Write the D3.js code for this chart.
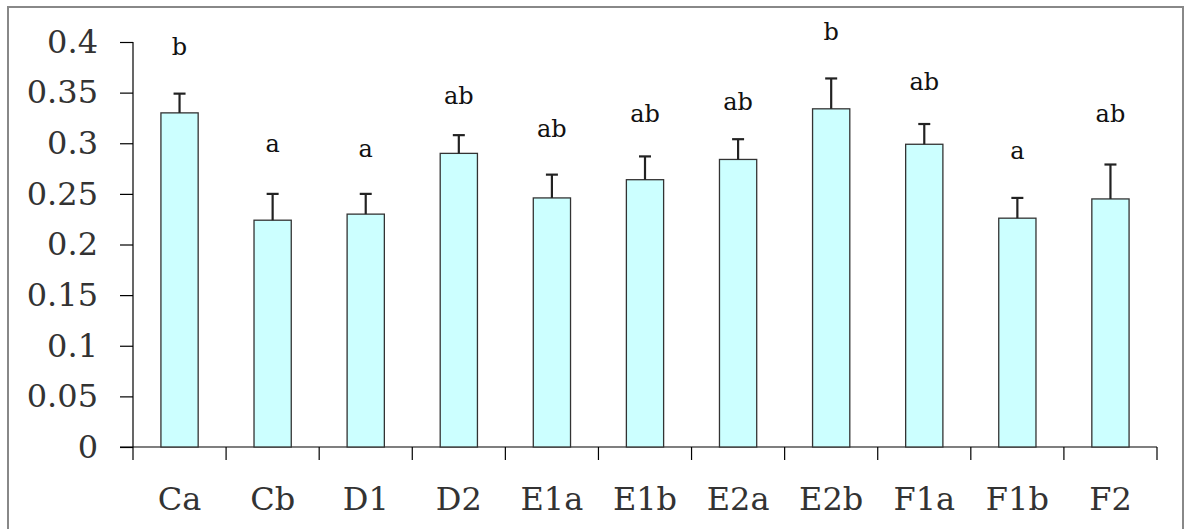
<!DOCTYPE html>
<html>
<head>
<meta charset="utf-8">
<script src="https://cdn.jsdelivr.net/npm/d3@7"></script>
<style>
  html, body { margin: 0; padding: 0; background: #fff; }
  svg { display: block; }
</style>
</head>
<body>
<svg id="chart" width="1187" height="529"></svg>
<script>
// ---- data ----
const categories = ["Ca", "Cb", "D1", "D2", "E1a", "E1b", "E2a", "E2b", "F1a", "F1b", "F2"];
const means      = [0.330, 0.224, 0.230, 0.290, 0.246, 0.264, 0.284, 0.334, 0.299, 0.226, 0.245];
const errors     = [0.019, 0.026, 0.020, 0.018, 0.023, 0.023, 0.020, 0.030, 0.020, 0.020, 0.034];
const letters    = ["b", "a", "a", "ab", "ab", "ab", "ab", "b", "ab", "a", "ab"];
const letterY    = [0.387, 0.291, 0.286, 0.339, 0.306, 0.321, 0.333, 0.402, 0.353, 0.284, 0.321];
const yTicks     = [0, 0.05, 0.1, 0.15, 0.2, 0.25, 0.3, 0.35, 0.4];

// ---- layout ----
const svg = d3.select("#chart");
const x0 = 133, x1 = 1157, yTop = 42, yBot = 447;
const font = "'DejaVu Serif', 'Liberation Serif', serif";

svg.append("rect")
  .attr("x", 8).attr("y", 7).attr("width", 1175).attr("height", 540)
  .attr("fill", "none").attr("stroke", "#888").attr("stroke-width", 2);

const x = d3.scaleBand().domain(categories).range([x0, x1]).paddingInner(0.6).paddingOuter(0.3);
const xb = d3.scaleBand().domain(categories).range([x0, x1]);
const y = d3.scaleLinear().domain([0, 0.4]).range([yBot, yTop]);

// y axis
const yAxis = d3.axisLeft(y).tickValues(yTicks).tickSize(13).tickPadding(22)
  .tickFormat(d => d3.format("")(+d.toFixed(2)));
const gy = svg.append("g").attr("transform", `translate(${x0},0)`).call(yAxis);
gy.select(".domain").attr("d", `M0,${yTop}H0V${yBot}`).attr("stroke", "#000").attr("stroke-width", 1.2);
gy.selectAll(".tick line").attr("stroke", "#000").attr("stroke-width", 1.2);
gy.selectAll(".tick text").attr("font-family", font).attr("font-size", 32).attr("fill", "#333");

// x axis line and ticks
svg.append("line").attr("x1", 120).attr("x2", x1).attr("y1", yBot).attr("y2", yBot)
  .attr("stroke", "#000").attr("stroke-width", 1.2);
const bounds = categories.map(c => xb(c)).concat([x1]);
svg.selectAll(".xt").data(bounds).enter().append("line")
  .attr("x1", d => d).attr("x2", d => d).attr("y1", yBot).attr("y2", yBot + 13)
  .attr("stroke", "#000").attr("stroke-width", 1.2);
svg.selectAll(".xl").data(categories).enter().append("text")
  .attr("x", d => xb(d) + xb.bandwidth() / 2).attr("y", 510)
  .attr("text-anchor", "middle").attr("font-family", font).attr("font-size", 32).attr("fill", "#333")
  .text(d => d);

// bars
svg.selectAll(".bar").data(categories).enter().append("rect")
  .attr("x", d => x(d)).attr("width", x.bandwidth())
  .attr("y", (d, i) => y(means[i])).attr("height", (d, i) => yBot - y(means[i]))
  .attr("fill", "#CCFFFF").attr("stroke", "#333").attr("stroke-width", 1.3);

// error bars
const cx = d => x(d) + x.bandwidth() / 2;
svg.selectAll(".eb").data(categories).enter().append("line")
  .attr("x1", cx).attr("x2", cx)
  .attr("y1", (d, i) => y(means[i])).attr("y2", (d, i) => y(means[i] + errors[i]))
  .attr("stroke", "#222").attr("stroke-width", 2.2);
svg.selectAll(".ec").data(categories).enter().append("line")
  .attr("x1", d => cx(d) - 6).attr("x2", d => cx(d) + 6)
  .attr("y1", (d, i) => y(means[i] + errors[i])).attr("y2", (d, i) => y(means[i] + errors[i]))
  .attr("stroke", "#222").attr("stroke-width", 2.2);

// significance letters
svg.selectAll(".lt").data(categories).enter().append("text")
  .attr("x", cx).attr("y", (d, i) => y(letterY[i]))
  .attr("text-anchor", "middle").attr("font-family", font).attr("font-size", 24).attr("fill", "#111")
  .text((d, i) => letters[i]);
</script>
</body>
</html>
